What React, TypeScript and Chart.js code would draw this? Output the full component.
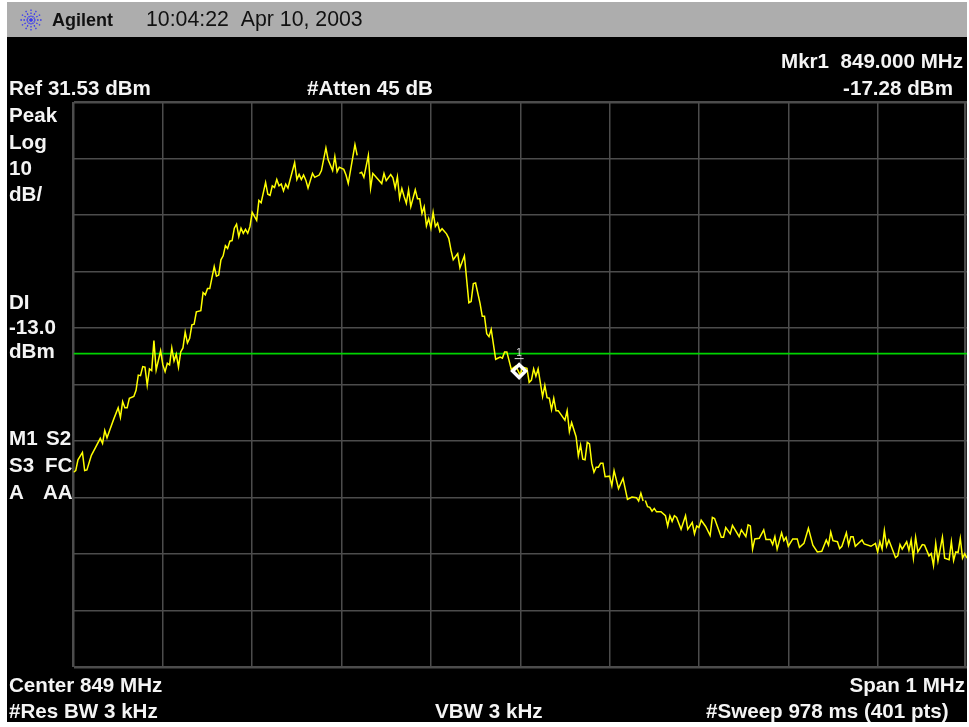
import React, { useEffect, useRef } from "react";
import { Chart, registerables } from "chart.js";

Chart.register(...registerables);

// Sweep point numbers (0-400 across the 1 MHz span); .5 entries mark breaks in the trace
const tracePoint = [
  0, 1, 2, 4, 5, 6, 8, 10, 12, 13, 14, 15, 16, 18, 20, 21, 22, 23, 24, 25, 27, 28, 29, 30, 31, 32, 33, 34, 35, 36,
  37, 39, 40, 41, 42, 43, 44, 45, 46, 47, 48, 49, 50, 51, 52, 53, 54, 55, 57, 58, 59, 60, 61, 63, 64, 65, 66, 67, 68, 69,
  70, 71, 72, 73, 74, 75, 76, 77, 78, 79, 80, 82, 83, 84, 86, 87, 88, 89, 90, 91, 92, 93, 94, 95, 96, 99, 100, 101, 102, 103,
  104, 105, 107, 108, 110, 111, 113, 114, 116, 117, 118, 119, 121, 122, 123, 126, 127, 127.5,
  128, 129, 130, 132, 133, 134, 136, 138, 139, 140, 142, 143, 144, 145, 146, 147, 148, 149, 150, 151, 153, 154, 155, 156, 157, 158, 159, 160, 161, 162,
  163, 164, 165, 167, 168, 169, 170, 172, 173, 175, 177, 178, 179, 180, 182, 183, 184, 185, 186, 187, 189, 191, 192, 193, 194, 196, 198, 200, 201, 203,
  204, 205, 206, 207, 208, 210, 211, 212, 213, 214, 215, 216, 217, 220, 221, 222, 223, 225, 226, 227, 228, 229, 230, 231, 232, 233, 234,
  235, 236, 237, 238, 240, 241, 242, 244, 246, 248, 250, 252, 253, 254, 255, 255.5,
  256, 257, 258, 259, 260, 261, 263, 265, 266, 267, 268, 269, 270, 272, 274, 275, 277, 278, 279, 280, 281, 283, 285, 286, 287, 290, 291, 292, 294, 295,
  298, 299, 301, 302, 303, 304, 305, 307, 309, 310, 312, 313, 314, 315, 317, 318, 319, 320, 322, 324, 325, 327, 329, 331, 333, 335, 337, 338, 339, 340,
  342, 343, 344, 346, 347, 348, 349, 350, 353, 354, 357, 359, 360, 361, 362, 363, 364, 365, 368, 369, 370, 371, 373, 374, 375, 376, 377, 378, 380, 381,
  383, 384, 385, 386, 387, 389, 390, 392, 393, 394, 395, 396, 397, 398, 399, 400,
];

// Trace level at each sweep point, dBm (null = break)
const traceDbm = [
  -34.0, -33.7, -31.8, -30.5, -33.7, -33.6, -31.0, -29.5, -28.0, -28.9, -26.6, -27.9, -26.8, -24.6, -22.6, -24.3, -21.5, -22.6, -22.6, -20.9, -20.6, -19.5, -16.8, -16.9, -15.3, -15.4, -18.6, -15.7, -16.0, -10.7,
  -15.9, -12.5, -15.0, -16.2, -14.7, -15.0, -12.0, -14.3, -13.1, -15.4, -12.7, -12.0, -9.2, -11.1, -10.3, -7.9, -7.8, -5.6, -5.4, -2.2, -2.6, -1.5, -1.5, 2.4, 0.7, 0.9, 3.6, 4.3, 6.1, 5.6,
  6.9, 7.0, 9.2, 9.9, 7.7, 9.2, 8.3, 9.0, 8.3, 9.5, 12.0, 10.6, 14.1, 13.7, 17.3, 15.2, 15.0, 16.7, 16.4, 17.8, 16.7, 17.0, 15.8, 17.0, 16.3, 20.8, 17.8, 18.7, 17.8, 18.6,
  17.7, 16.3, 18.9, 18.2, 18.6, 19.4, 23.4, 21.3, 19.4, 21.9, 19.2, 20.0, 19.6, 18.6, 17.1, 24.0, 22.1, null,
  18.9, 19.1, 18.2, 22.1, 16.3, 18.9, 18.0, 17.1, 18.9, 17.6, 18.7, 18.1, 16.3, 18.3, 14.5, 16.2, 14.8, 13.6, 16.0, 13.0, 16.0, 14.4, 14.4, 11.8, 13.0, 9.6, 10.9, 9.2, 12.0, 9.5,
  10.1, 8.6, 9.1, 8.2, 7.4, 5.3, 3.6, 4.7, 2.2, 4.3, -4.0, -3.8, -0.6, -0.5, -4.1, -6.4, -6.4, -9.5, -10.0, -8.7, -14.0, -13.6, -13.8, -12.7, -12.7, -15.8, -15.2, -16.8, -15.4, -15.6,
  -18.1, -17.7, -15.7, -17.0, -15.7, -20.6, -18.6, -20.8, -20.9, -22.9, -20.9, -23.1, -23.1, -24.8, -23.1, -26.8, -25.2, -27.7, -31.1, -29.2, -31.7, -31.8, -28.7, -29.0, -32.4, -34.0, -33.1,
  -33.1, -32.4, -32.4, -34.8, -34.7, -36.4, -33.7, -36.9, -35.1, -38.8, -38.4, -38.5, -39.1, -37.7, -39.1, null,
  -39.0, -40.1, -40.2, -40.9, -40.4, -41.0, -41.0, -41.7, -43.5, -41.7, -42.7, -41.7, -42.0, -44.1, -41.7, -44.1, -42.9, -44.9, -43.5, -43.8, -42.5, -43.6, -45.2, -42.0, -42.2, -45.5, -45.5, -43.8, -44.9, -43.4,
  -45.4, -44.2, -45.4, -43.3, -43.5, -47.6, -45.8, -45.7, -44.2, -45.9, -45.9, -46.8, -45.4, -47.6, -44.7, -46.1, -45.5, -47.1, -45.8, -45.8, -47.3, -46.6, -43.9, -46.9, -48.1, -48.0, -46.0, -46.9, -44.6, -46.1,
  -46.3, -47.5, -47.1, -44.7, -46.9, -45.4, -45.4, -47.1, -46.0, -46.7, -47.1, -46.6, -48.1, -46.3, -47.6, -44.3, -47.1, -46.0, -49.1, -48.8, -46.8, -47.6, -46.3, -47.8, -46.0, -49.2, -45.5, -48.1, -46.8, -46.9,
  -48.8, -48.4, -50.5, -46.6, -49.7, -45.5, -49.2, -49.5, -46.3, -49.6, -48.1, -48.2, -45.7, -49.2, -48.4, -49.2,
];

const divisionPoints = [0, 40, 80, 120, 160, 200, 240, 280, 320, 360, 399];
const divisionDbm = [31.53, 21.53, 11.53, 1.53, -8.47, -18.47, -28.47, -38.47, -48.47, -58.47, -68.47];
const displayLine = -13;
const markerPoint = 199.5;
const markerDbm = -16.1;

type Label = { text: string; cy: number; left?: number; right?: number; size?: number; color?: string; weight?: number; ls?: number };

const labels: Label[] = [
  { text: "Agilent", left: 52, cy: 20, color: "#111", size: 18 },
  { text: "10:04:22\u00a0\u00a0Apr 10, 2003", left: 146, cy: 20, color: "#111", weight: 400, size: 21.3 },
  { text: "Mkr1\u00a0\u00a0849.000 MHz", right: 963, cy: 61 },
  { text: "Ref 31.53 dBm", left: 9, cy: 88 },
  { text: "#Atten 45 dB", left: 307, cy: 88 },
  { text: "-17.28 dBm", right: 953, cy: 88 },
  { text: "Peak", left: 9, cy: 114.5 },
  { text: "Log", left: 9, cy: 141.5 },
  { text: "10", left: 9, cy: 168 },
  { text: "dB/", left: 9, cy: 194 },
  { text: "DI", left: 9, cy: 302 },
  { text: "-13.0", left: 9, cy: 327 },
  { text: "dBm", left: 9, cy: 351 },
  { text: "M1", left: 9, cy: 438 },
  { text: "S2", left: 46, cy: 438 },
  { text: "S3", left: 9, cy: 465 },
  { text: "FC", left: 45, cy: 465 },
  { text: "A", left: 9, cy: 492 },
  { text: "AA", left: 43, cy: 492 },
  { text: "Center 849 MHz", left: 9, cy: 685 },
  { text: "Span 1 MHz", right: 965, cy: 685 },
  { text: "#Res BW 3 kHz", left: 9, cy: 711 },
  { text: "VBW 3 kHz", left: 435, cy: 711 },
  { text: "#Sweep 978 ms (401 pts)", left: 706, cy: 711 },
];

const GRID = "#4c4c4c";

const markerTag = {
  id: "markerTag",
  afterDatasetsDraw(chart: any) {
    const { ctx, scales } = chart;
    const x = scales.x.getPixelForValue(markerPoint);
    const y = scales.y.getPixelForValue(markerDbm);
    ctx.save();
    ctx.fillStyle = "#dddddd";
    ctx.strokeStyle = "#dddddd";
    ctx.font = "10px 'Liberation Sans'";
    ctx.textAlign = "center";
    ctx.textBaseline = "bottom";
    ctx.fillText("1", x, y - 12.5);
    ctx.lineWidth = 1;
    ctx.beginPath();
    ctx.moveTo(x - 4.5, y - 12.5);
    ctx.lineTo(x + 4.5, y - 12.5);
    ctx.stroke();
    ctx.restore();
  },
};

function Logo() {
  const rays = [0, 30, 60, 90, 120, 150, 180, 210, 240, 270, 300, 330];
  return (
    <svg width={26} height={26} style={{ position: "absolute", left: 11, top: 5 }} viewBox="-13 -13 26 26">
      {rays.map((a) => (
        <line
          key={a}
          x1={0}
          y1={0}
          x2={12 * Math.cos((a * Math.PI) / 180)}
          y2={12 * Math.sin((a * Math.PI) / 180)}
          stroke="#3a3af0"
          strokeWidth={1.3}
          strokeDasharray="1.6 1.4"
        />
      ))}
    </svg>
  );
}

export default function App() {
  const ref = useRef<HTMLCanvasElement | null>(null);

  useEffect(() => {
    if (!ref.current) return;
    const chart = new Chart(ref.current, {
      type: "line",
      data: {
        datasets: [
          {
            label: "Marker",
            data: [{ x: markerPoint, y: markerDbm }],
            showLine: false,
            pointStyle: "rectRot",
            pointRadius: 6.5,
            pointBorderColor: "#ffffff",
            pointBackgroundColor: "rgba(0,0,0,0)",
            pointBorderWidth: 3.5,
            order: 0,
          },
          {
            label: "Trace",
            data: tracePoint.map((x, i) => ({ x, y: traceDbm[i] })),
            borderColor: "#ffff00",
            borderWidth: 1.5,
            pointRadius: 0,
            tension: 0,
            spanGaps: false,
            order: 1,
          },
          {
            label: "Display line",
            data: [
              { x: 0, y: displayLine },
              { x: 400, y: displayLine },
            ],
            borderColor: "#00d400",
            borderWidth: 1.7,
            pointRadius: 0,
            order: 2,
          },
        ],
      } as any,
      options: {
        animation: false,
        responsive: false,
        devicePixelRatio: 1,
        parsing: false,
        normalized: true,
        layout: { autoPadding: false, padding: { left: 66.5, top: 100, right: 0, bottom: 55 } },
        plugins: { legend: { display: false }, tooltip: { enabled: false }, title: { display: false } },
        scales: {
          x: {
            type: "linear",
            min: 0,
            max: 400,
            afterBuildTicks: (s: any) => {
              s.ticks = divisionPoints.map((value) => ({ value }));
            },
            ticks: { display: false },
            border: { display: false },
            grid: {
              color: GRID,
              drawTicks: false,
              lineWidth: (c: any) => (c.index === 0 || c.index === divisionPoints.length - 1 ? 2.5 : 1.5),
            },
          },
          y: {
            type: "linear",
            min: -68.47,
            max: 31.53,
            afterBuildTicks: (s: any) => {
              s.ticks = divisionDbm.map((value) => ({ value })).reverse();
            },
            ticks: { display: false },
            border: { display: false },
            grid: {
              color: GRID,
              drawTicks: false,
              lineWidth: (c: any) => (c.index === 0 || c.index === divisionDbm.length - 1 ? 2.5 : 1.5),
            },
          },
        },
      } as any,
      plugins: [markerTag],
    });
    return () => chart.destroy();
  }, []);

  return (
    <div style={{ position: "absolute", left: 7, top: 2, width: 960, height: 720, background: "#000", overflow: "hidden" }}>
      <div style={{ position: "absolute", left: 0, top: 0, width: 960, height: 35, background: "#adadad" }} />
      <canvas ref={ref} width={960} height={720} style={{ position: "absolute", left: 0, top: 0, display: "block", background: "transparent" }} />
      <Logo />
      {labels.map((l) => (
        <span
          key={l.text + l.cy}
          style={{
            position: "absolute",
            top: l.cy - 2,
            left: l.left !== undefined ? l.left - 7 : undefined,
            right: l.right !== undefined ? 967 - l.right : undefined,
            transform: "translateY(-50%)",
            fontFamily: "'Liberation Sans', Arial, sans-serif",
            fontWeight: l.weight ?? 700,
            fontSize: l.size ?? 20.6,
            lineHeight: 1,
            whiteSpace: "pre",
            color: l.color ?? "#f4f4f4",
          }}
        >
          {l.text}
        </span>
      ))}
    </div>
  );
}
